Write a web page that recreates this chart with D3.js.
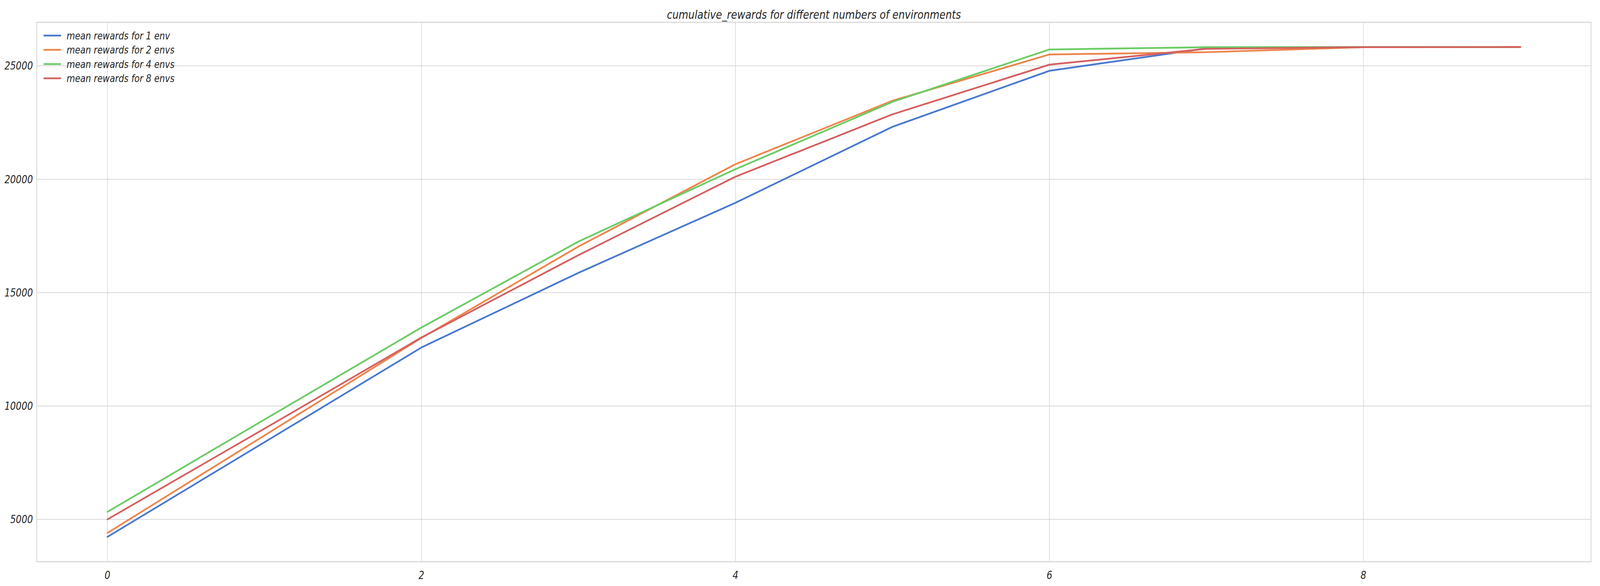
<!DOCTYPE html>
<html>
<head>
<meta charset="utf-8">
<script src="https://cdn.jsdelivr.net/npm/d3@7"></script>
<style>
  html, body { margin: 0; padding: 0; background: #fff; overflow: hidden; }
  svg { display: block; width: 100vw; height: 100vh; }
  text { font-family: "DejaVu Sans", sans-serif; font-style: italic; fill: #262626; }
</style>
</head>
<body>
<svg id="chart"></svg>
<script>
// data
const steps = [0, 1, 2, 3, 4, 5, 6, 7, 8, 9];
const seriesNames = ["mean rewards for 1 env", "mean rewards for 2 envs", "mean rewards for 4 envs", "mean rewards for 8 envs"];
const rewards1 = [4230, 8400, 12580, 15870, 18960, 22310, 24780, 25770, 25820, 25830];
const rewards2 = [4400, 8700, 13000, 17030, 20660, 23460, 25500, 25600, 25820, 25830];
const rewards4 = [5330, 9400, 13460, 17250, 20440, 23410, 25720, 25820, 25830, 25830];
const rewards8 = [5000, 9000, 13020, 16650, 20110, 22860, 25050, 25750, 25820, 25830];
const colors = ["#4878d0", "#ee854a", "#6acc64", "#d65f5f"];
const xTicks = [0, 2, 4, 6, 8];
const yTicks = [5000, 10000, 15000, 20000, 25000];

const width = 5000, height = 1500;
const margin = {top: 57, right: 28, bottom: 62, left: 115};

const svg = d3.select("#chart")
  .attr("viewBox", "0 0 " + width + " " + height)
  .attr("preserveAspectRatio", "none");

const x = d3.scaleLinear().domain([-0.45, 9.45]).range([margin.left, width - margin.right]);
const y = d3.scaleLinear().domain([3130, 26920]).range([height - margin.bottom, margin.top]);

// grid
svg.append("g")
  .selectAll("line").data(xTicks).enter().append("line")
    .attr("x1", d => x(d)).attr("x2", d => x(d))
    .attr("y1", margin.top).attr("y2", height - margin.bottom)
    .attr("stroke", "#cccccc").attr("stroke-width", 1.5);
svg.append("g")
  .selectAll("line").data(yTicks).enter().append("line")
    .attr("x1", margin.left).attr("x2", width - margin.right)
    .attr("y1", d => y(d)).attr("y2", d => y(d))
    .attr("stroke", "#cccccc").attr("stroke-width", 1.5);

// frame
svg.append("rect")
  .attr("x", margin.left).attr("y", margin.top)
  .attr("width", width - margin.left - margin.right)
  .attr("height", height - margin.top - margin.bottom)
  .attr("fill", "none").attr("stroke", "#cccccc").attr("stroke-width", 2);

// tick labels
svg.append("g").selectAll("text").data(xTicks).enter().append("text")
  .attr("x", d => x(d)).attr("y", height - margin.bottom + 44)
  .attr("text-anchor", "middle").style("font-size", "28px")
  .text(d => d);
svg.append("g").selectAll("text").data(yTicks).enter().append("text")
  .attr("x", margin.left - 12).attr("y", d => y(d) + 10)
  .attr("text-anchor", "end").style("font-size", "28px")
  .text(d => d);

// lines
const allSeries = [rewards1, rewards2, rewards4, rewards8];
const line = d3.line().x((d, i) => x(steps[i])).y(d => y(d));
svg.append("g").selectAll("path").data(allSeries).enter().append("path")
  .attr("d", line)
  .attr("fill", "none")
  .attr("stroke", (d, i) => colors[i])
  .attr("stroke-width", 4.5)
  .attr("stroke-linecap", "round")
  .attr("stroke-linejoin", "round");

// title
svg.append("text")
  .attr("x", (margin.left + width - margin.right) / 2).attr("y", 48)
  .attr("text-anchor", "middle").style("font-size", "31px")
  .text("cumulative_rewards for different numbers of environments");

// legend
const legend = svg.append("g");
seriesNames.forEach((name, i) => {
  const ly = 91 + i * 36.5;
  legend.append("line")
    .attr("x1", 138).attr("x2", 189).attr("y1", ly).attr("y2", ly)
    .attr("stroke", colors[i]).attr("stroke-width", 4.5).attr("stroke-linecap", "round");
  legend.append("text")
    .attr("x", 208).attr("y", ly + 10).style("font-size", "27px")
    .text(name);
});
</script>
</body>
</html>
